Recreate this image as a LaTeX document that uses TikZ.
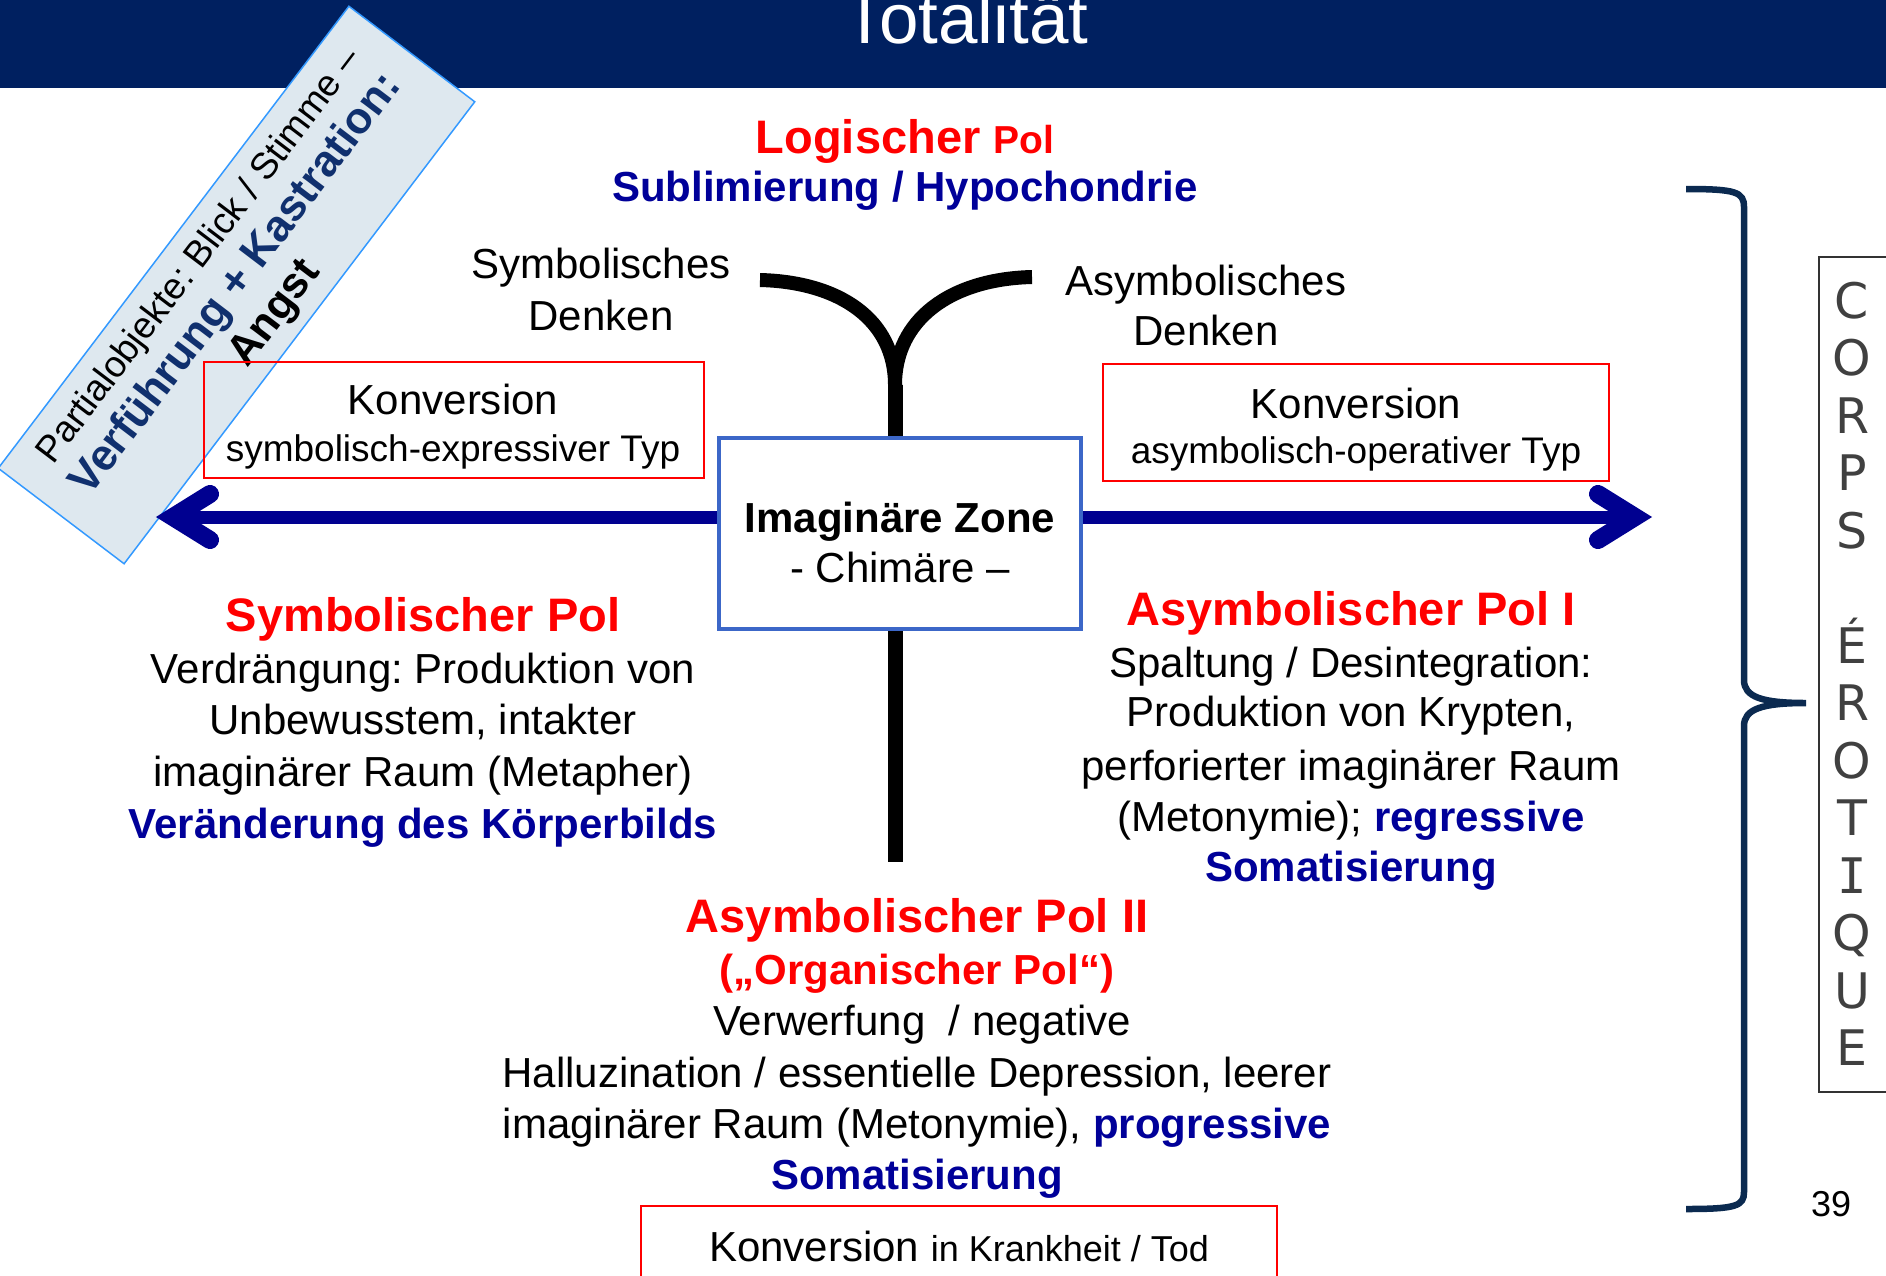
\documentclass[tikz,border=0pt]{standalone}
\usepackage{fontspec}
\setmainfont{Liberation Sans}
\newfontfamily\monof{DejaVu Sans Mono}
\newfontfamily\corpsf{DejaVu Sans}
\frenchspacing
\definecolor{hdr}{HTML}{002060}
\definecolor{dblue}{HTML}{000099}
\definecolor{arrowblue}{HTML}{000090}
\definecolor{zoneblue}{HTML}{3C67C8}
\definecolor{diagfill}{HTML}{DEE8EF}
\definecolor{diagline}{HTML}{3399FF}
\definecolor{navytxt}{HTML}{10306E}
\definecolor{bracecol}{HTML}{0B2A50}
\definecolor{corpsgray}{HTML}{404040}
\begin{document}
\frenchspacing
\begin{tikzpicture}[x=1pt,y=-1pt,
  txt/.style={inner sep=0pt, anchor=base, font=\fontsize{42}{50}\selectfont},
  small/.style={inner sep=0pt, anchor=base, font=\fontsize{37}{44}\selectfont},
  head/.style={inner sep=0pt, anchor=base, text=red, font=\fontsize{47}{56}\selectfont\bfseries},
  bluebold/.style={inner sep=0pt, anchor=base, text=dblue, font=\fontsize{42}{50}\selectfont\bfseries},
  redbox/.style={draw=red, line width=2pt, inner sep=0pt},
  arrowline/.style={draw=arrowblue, line width=13pt},
  arrowhead/.style={draw=arrowblue, line width=18pt, line cap=round, line join=miter},
  forkline/.style={draw=black, line width=14pt},
  corps/.style={inner sep=0pt, anchor=base, text=corpsgray, font=\corpsf\fontsize{49}{58}\selectfont},
]
\path[use as bounding box] (0,0) rectangle (1886,1275);
\clip (0,0) rectangle (1886,1275);

% header
\fill[hdr] (0,0) rectangle (1886,88);
\node[inner sep=0pt, anchor=base, text=white, font=\fontsize{71}{82}\selectfont] (title) at (966,43) {Totalität};

% diagonal box
\node[draw=diagline, fill=diagfill, line width=1.5pt, minimum width=580pt, minimum height=158pt, rotate=52.8, inner sep=0pt] (diag) at (236.5,285) {};
\node[rotate=52.8, align=center, inner sep=0pt, font=\fontsize{37}{48}\selectfont] (diagtxt) at (239,286)
  {Partialobjekte: Blick / Stimme –\\
   {\fontsize{44}{48}\selectfont\bfseries\color{navytxt}Verführung + Kastration:}\\
   {\fontsize{43}{48}\selectfont\bfseries Angst}};

% red boxes
\node[redbox, minimum width=500pt, minimum height=116pt] (kleft) at (454,420) {};
\node[redbox, minimum width=506pt, minimum height=117pt] (kright) at (1356,422.5) {};
\node[redbox, minimum width=636pt, minimum height=110pt] (kbottom) at (959,1261) {};

% horizontal arrows
\coordinate (lv) at (173,517);
\coordinate (rv) at (1635,517);
\coordinate (la1) at (210,494);
\coordinate (la2) at (210,540);
\coordinate (ra1) at (1598,494);
\coordinate (ra2) at (1598,540);

% fork & stem
\coordinate (fj) at (895,385);
\coordinate (fl) at (760,280);
\coordinate (fr) at (1032,277);
\coordinate (stemend) at (895,862);

% center box
\node[draw=zoneblue, fill=white, line width=4pt, minimum width=362pt, minimum height=191pt, inner sep=0pt] (zone) at (900,533.5) {};

\draw[arrowline] (lv) -- (lv -| zone.west);
\draw[arrowline] (rv) -- (rv -| zone.east);
\draw[arrowhead] (la1) -- (lv) -- (la2);
\draw[arrowhead] (ra1) -- (rv) -- (ra2);

\draw[forkline] (fl) .. controls (840,282) and (895,320) .. (fj);
\draw[forkline] (fr) .. controls (950,279) and (895,320) .. (fj);
\draw[draw=black, line width=15pt] (fj) -- (fj |- zone.north);
\draw[draw=black, line width=15pt] (fj |- zone.south) -- (stemend);

\node[inner sep=0pt, anchor=base, font=\fontsize{42}{50}\selectfont\bfseries] (z1) at (900,532) {Imaginäre Zone};
\node[txt] (z2) at (900,582) {- Chimäre –};

% top texts
\node[inner sep=0pt, anchor=base, text=red, font=\fontsize{47}{56}\selectfont\bfseries] (lp) at (905,153)
  {Logischer {\fontsize{39}{46}\selectfont Pol}};
\node[bluebold] (sub) at (905,201) {Sublimierung / Hypochondrie};
\node[txt] (sd1) at (601,278) {Symbolisches};
\node[txt] (sd2) at (601,330) {Denken};
\node[txt] (ad1) at (1206,295) {Asymbolisches};
\node[txt] (ad2) at (1206,345) {Denken};

% Konversion texts
\node[txt] (kl1) at (453,414) {Konversion};
\node[small] (kl2) at (453,461) {symbolisch-expressiver Typ};
\node[txt] (kr1) at (1356,418) {Konversion};
\node[small] (kr2) at (1356,463) {asymbolisch-operativer Typ};
\node[txt] (kb1) at (959,1261) {Konversion {\fontsize{36}{42}\selectfont in Krankheit / Tod}};

% left block
\node[head] (l0) at (423,631) {Symbolischer Pol};
\node[txt] (l1) at (423,683) {Verdrängung: Produktion von};
\node[txt] (l2) at (423,734) {Unbewusstem, intakter};
\node[txt] (l3) at (423,786) {imaginärer Raum (Metapher)};
\node[bluebold] (l4) at (423,838) {Veränderung des Körperbilds};

% right block
\node[head] (r0) at (1351,625) {Asymbolischer Pol I};
\node[txt] (r1) at (1351,677) {Spaltung / Desintegration:};
\node[txt] (r2) at (1351,726) {Produktion von Krypten,};
\node[txt] (r3) at (1351,780) {perforierter imaginärer Raum};
\node[txt] (r4) at (1351,831) {(Metonymie); {\bfseries\color{dblue}regressive}};
\node[bluebold] (r5) at (1351,881) {Somatisierung};

% bottom block
\node[head] (b0) at (917,932) {Asymbolischer Pol II};
\node[inner sep=0pt, anchor=base, text=red, font=\fontsize{42}{50}\selectfont\bfseries] (b1) at (917,984) {(„Organischer Pol“)};
\node[txt] (b2) at (922,1035) {Verwerfung\ \ / negative};
\node[txt] (b3) at (917,1087) {Halluzination / essentielle Depression, leerer};
\node[txt] (b4) at (917,1138) {imaginärer Raum (Metonymie), {\bfseries\color{dblue}progressive}};
\node[bluebold] (b5) at (917,1189) {Somatisierung};

% brace
\draw[draw=bracecol, line width=6.5pt]
  (1686,189) .. controls (1736,189) and (1744,192) .. (1744,207)
  -- (1744,680) .. controls (1744,697) and (1762,703) .. (1806,703)
  .. controls (1762,703) and (1744,709) .. (1744,726)
  -- (1744,1192) .. controls (1744,1206) and (1736,1209) .. (1686,1209);

% CORPS EROTIQUE
\draw[draw=black!80, line width=2pt] (1819,257) rectangle (1900,1092);
\foreach \l [count=\i from 0] in {C,O,R,P,S,{},É,R,O,T,{\monof I},Q,U,E}
  \node[corps] (c\i) at (1852,{318+57.5*\i}) {\l};

\node[inner sep=0pt, anchor=base, font=\fontsize{36}{42}\selectfont] (pg) at (1831,1216) {39};
\end{tikzpicture}
\end{document}
